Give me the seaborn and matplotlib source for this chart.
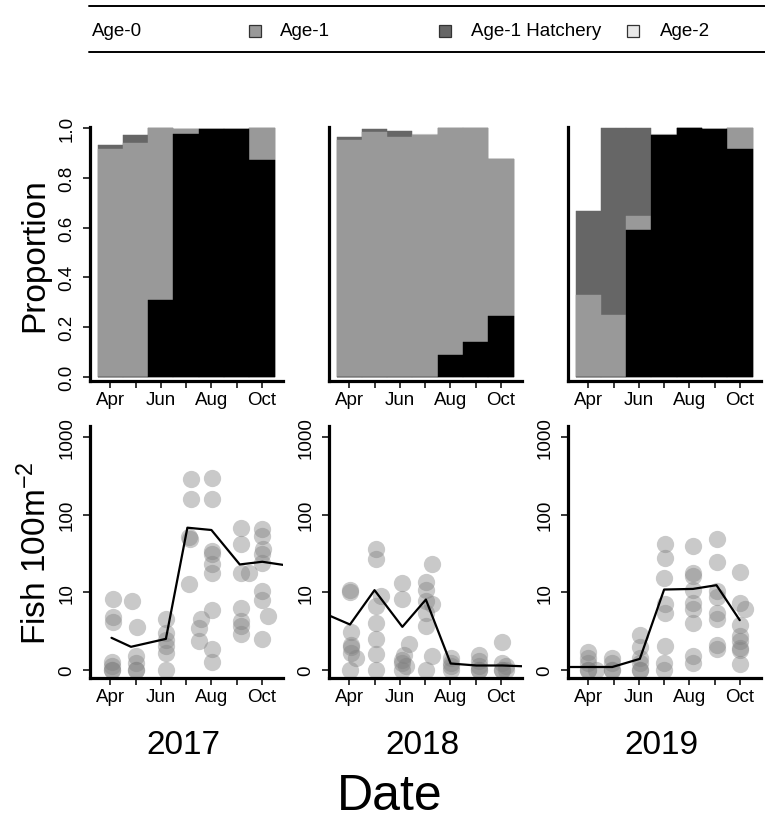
import numpy as np
import pandas as pd
import matplotlib
matplotlib.use('Agg')
import matplotlib.pyplot as plt
import seaborn as sns
from matplotlib.patches import Rectangle
from matplotlib.lines import Line2D

# ---------------- data ----------------
years = ['2017', '2018', '2019']
months = [4, 5, 6, 7, 8, 9, 10]
month_labels = ['Apr', '', 'Jun', '', 'Aug', '', 'Oct']
age_classes = ['Age-0', 'Age-1', 'Age-1 Hatchery', 'Age-2']

# proportions by month (Apr..Oct)
age0_2017 = [0.0, 0.0, 0.31, 0.975, 0.995, 0.997, 0.87]
age1_2017 = [0.915, 0.94, 0.69, 0.02, 0.0, 0.0, 0.13]
hatch_2017 = [0.015, 0.03, 0.0, 0.0, 0.0, 0.0, 0.0]
age2_2017 = [0.0, 0.0, 0.0, 0.0, 0.0, 0.0, 0.0]

age0_2018 = [0.0, 0.0, 0.0, 0.0, 0.09, 0.14, 0.245]
age1_2018 = [0.95, 0.984, 0.964, 0.972, 0.91, 0.86, 0.63]
hatch_2018 = [0.015, 0.012, 0.024, 0.0, 0.0, 0.0, 0.0]
age2_2018 = [0.0, 0.0, 0.0, 0.004, 0.0, 0.0, 0.0]

age0_2019 = [0.0, 0.0, 0.59, 0.97, 1.0, 0.997, 0.915]
age1_2019 = [0.33, 0.25, 0.057, 0.0, 0.0, 0.0, 0.085]
hatch_2019 = [0.337, 0.75, 0.353, 0.0, 0.0, 0.0, 0.0]
age2_2019 = [0.0, 0.0, 0.0, 0.006, 0.0, 0.0, 0.0]

# densities (fish per 100 m^2) at sampling dates (fractional month)
dens_x_2017 = [4.09, 4.09, 4.09, 4.07, 4.07, 4.07, 4.07,
               4.86, 5.04, 5.01, 5.01, 5.01, 5.01,
               6.2, 6.2, 6.2, 6.2, 6.2, 6.2,
               7.18, 7.18, 7.12, 7.16, 7.12, 7.58, 7.51, 7.51,
               8.04, 8.04, 8.04, 8.04, 8.04, 8.04, 8.04, 8.04, 8.04,
               9.16, 9.16, 9.16, 9.49, 9.16, 9.16, 9.16, 9.16,
               10.01, 10.01, 10.05, 10.01, 10.01, 10.01, 10.01, 10.25, 10.01]
dens_y_2017 = [7.3, 3.9, 3.15, 0.28, 0.12, 0.0, 0.0,
               6.7, 2.6, 0.51, 0.24, 0.0, 0.0,
               3.58, 2.0, 1.48, 1.04, 0.67, 0.0,
               284, 160, 50.5, 47, 11.7, 3.5, 2.5, 1.36,
               298, 160, 33, 30, 22, 17, 5.0, 0.88, 0.27,
               67, 40.5, 17, 17, 5.35, 3.3, 2.7, 1.9,
               64, 52, 35, 30, 23, 9.4, 7.1, 4.05, 1.53]
mean_x_2017 = [4.05, 4.82, 6.2, 7.05, 8.0, 9.12, 10.01, 11.0]
mean_y_2017 = [1.61, 1.0, 1.53, 67, 62.5, 21.9, 23.8, 21.2]

dens_x_2018 = [4.03, 4.03, 4.07, 4.07, 4.07, 4.07, 4.26, 4.03,
               5.05, 5.05, 5.25, 5.05, 5.05, 5.05, 5.05, 5.05,
               6.1, 6.1, 6.37, 6.17, 6.1, 6.1, 6.24, 6.1,
               7.29, 7.05, 7.05, 7.05, 7.29, 7.05, 7.05, 7.29, 7.05,
               8.01, 8.01, 8.01, 8.01,
               9.13, 9.13, 9.13, 9.13, 9.13,
               10.05, 10.05, 10.18, 10.05, 10.05, 10.18]
dens_y_2018 = [9.9, 9.1, 2.08, 1.14, 1.0, 0.67, 0.44, 0.0,
               35.5, 25.6, 8.0, 5.7, 3.0, 1.53, 0.62, 0.0,
               12.3, 7.3, 1.18, 0.58, 0.37, 0.24, 0.12, 0.0,
               22, 12.6, 9.9, 6.7, 6.0, 4.37, 2.7, 0.51, 0.0,
               0.44, 0.24, 0.12, 0.0,
               0.59, 0.31, 0.12, 0.0, 0.0,
               1.3, 0.24, 0.12, 0.0, 0.0, 0.0]
mean_x_2018 = [3.0, 4.03, 5.0, 6.1, 7.03, 8.01, 9.03, 10.05, 11.0]
mean_y_2018 = [4.4, 2.87, 9.7, 2.61, 7.1, 0.22, 0.15, 0.15, 0.12]

dens_x_2019 = [4.0, 4.0, 4.0, 4.0, 4.0, 4.29,
               4.95, 4.95, 4.95, 4.95,
               6.04, 6.04, 6.04, 6.04, 6.04, 6.04,
               7.03, 7.03, 7.0, 7.03, 7.03, 7.03, 7.0, 7.0,
               8.14, 8.14, 8.14, 8.14, 8.14, 8.14, 8.14, 8.14, 8.14,
               9.09, 9.09, 9.09, 9.09, 9.09, 9.09, 9.09, 9.09,
               9.99, 9.99, 10.18, 9.99, 9.99, 9.99, 9.99, 9.99, 9.99]
dens_y_2019 = [0.7, 0.44, 0.24, 0.0, 0.0, 0.0,
               0.44, 0.24, 0.0, 0.0,
               1.85, 1.0, 0.44, 0.24, 0.0, 0.0,
               40.5, 27, 14.5, 6.0, 4.37, 1.04, 0.24, 0.0,
               38.5, 17, 15.2, 9.9, 6.4, 5.2, 3.07, 0.51, 0.24,
               47, 23.6, 9.4, 7.8, 4.5, 3.5, 1.14, 0.85,
               17.3, 6.4, 5.2, 2.76, 1.74, 1.36, 0.94, 0.81, 0.22]
mean_x_2019 = [3.0, 4.0, 4.95, 6.04, 7.0, 8.14, 9.07, 9.99]
mean_y_2019 = [0.1, 0.1, 0.1, 0.4, 9.9, 10.1, 11.4, 3.4]

dens_ticks = [0, 10, 100, 1000]

props = {
    '2017': (age0_2017, age1_2017, hatch_2017, age2_2017),
    '2018': (age0_2018, age1_2018, hatch_2018, age2_2018),
    '2019': (age0_2019, age1_2019, hatch_2019, age2_2019),
}
dens = {
    '2017': (dens_x_2017, dens_y_2017, mean_x_2017, mean_y_2017),
    '2018': (dens_x_2018, dens_y_2018, mean_x_2018, mean_y_2018),
    '2019': (dens_x_2019, dens_y_2019, mean_x_2019, mean_y_2019),
}

# ---------------- style ----------------
COL_AGE0 = '#000000'
COL_AGE1 = '#999999'
COL_HATCH = '#666666'
COL_AGE2 = '#e8e8e8'

sns.set_theme(style='ticks')
plt.rcParams['font.family'] = ['Liberation Sans', 'DejaVu Sans']
plt.rcParams['mathtext.fontset'] = 'custom'
plt.rcParams['mathtext.rm'] = 'Liberation Sans'
plt.rcParams['mathtext.it'] = 'Liberation Sans:italic'
plt.rcParams['mathtext.sf'] = 'Liberation Sans'
plt.rcParams['axes.unicode_minus'] = True
for key in ['text.color', 'axes.labelcolor', 'xtick.color', 'ytick.color',
            'xtick.labelcolor', 'ytick.labelcolor', 'axes.edgecolor']:
    plt.rcParams[key] = 'black'

W, H = 765, 820
fig = plt.figure(figsize=(W / 100, H / 100), dpi=100)
fig.patch.set_facecolor('white')


def px_axes(left, top, right, bottom):
    return fig.add_axes([left / W, 1 - bottom / H, (right - left) / W, (bottom - top) / H])


def tr(v):
    return np.log10(np.asarray(v, dtype=float) + 1.0)


TICK_FS = 13.5


def style(ax):
    for s in ['top', 'right']:
        ax.spines[s].set_visible(False)
    for s in ['left', 'bottom']:
        ax.spines[s].set_linewidth(2.3)
        ax.spines[s].set_color('black')
        ax.spines[s].set_capstyle('projecting')
    ax.set_facecolor('white')
    ax.grid(False)
    ax.tick_params(direction='out', length=5, width=1.1, colors='black',
                   labelcolor='black', labelsize=TICK_FS)
    ax.tick_params(axis='x', pad=2.5)
    ax.tick_params(axis='y', pad=5.5)
    ax.set_xlim(3.2, 10.83)
    ax.set_xticks(months)
    ax.set_xticklabels(month_labels)
    ax.set_xlabel('')
    ax.set_ylabel('')


lefts = [90, 329, 568]
PW = 193

for i, yr in enumerate(years):
    # ---- proportion panel ----
    ax = px_axes(lefts[i], 128, lefts[i] + PW, 382)
    a0, a1, h, a2 = [np.asarray(v) for v in props[yr]]
    layers = [a0 + a1 + h + a2, a0 + a1 + h, a0 + a1, a0]
    colors = [COL_AGE2, COL_HATCH, COL_AGE1, COL_AGE0]
    for cum, col in zip(layers, colors):
        sns.barplot(x=months, y=cum, native_scale=True, width=1.0, color=col,
                    saturation=1, edgecolor=col, linewidth=0.3,
                    errorbar=None, ax=ax)
    style(ax)
    ax.set_ylim(-0.016, 1.004)
    if i == 0:
        ax.set_yticks([0, 0.2, 0.4, 0.6, 0.8, 1.0])
        ax.set_yticklabels(['0.0', '0.2', '0.4', '0.6', '0.8', '1.0'],
                           rotation=90, va='center')
    else:
        ax.set_yticks([])

    # ---- density panel ----
    bx = px_axes(lefts[i], 427, lefts[i] + PW, 679)
    dx, dy, mx, my = dens[yr]
    sns.scatterplot(x=dx, y=tr(dy), s=155, color='#808080', alpha=0.42,
                    linewidth=0, legend=False, ax=bx)
    sns.lineplot(x=mx, y=tr(my), color='black', linewidth=1.6, sort=False,
                 estimator=None, ax=bx)
    style(bx)
    bx.set_ylim(-0.10, 3.14)
    bx.set_yticks([0, 1, 2, 3])
    bx.set_yticklabels([str(t) for t in dens_ticks], rotation=90, va='center')

    # year label
    fig.text((lefts[i] + PW / 2 - 3) / W, 1 - 746 / H, yr, ha='center',
             va='center', fontsize=24, color='black')

fig.text(35 / W, 1 - 255 / H, 'Proportion', rotation=90, ha='center',
         va='center', fontsize=24, color='black')
fig.text(36 / W, 1 - 553 / H, r'Fish 100m$^{-2}$', rotation=90, ha='center',
         va='center', fontsize=24, color='black')
fig.text(390 / W, 1 - 797 / H, 'Date', ha='center', va='center', fontsize=36,
         color='black')

# ---------------- legend ----------------
fig.add_artist(Line2D([89 / W, 1.0], [1 - 7 / H, 1 - 7 / H], color='black', lw=1.4))
fig.add_artist(Line2D([89 / W, 1.0], [1 - 53 / H, 1 - 53 / H], color='black', lw=1.4))
LEG_Y = 32
fig.text(92 / W, 1 - LEG_Y / H, age_classes[0], ha='left', va='center',
         fontsize=13.5, color='black')
leg_items = [(249, 280, COL_AGE1, age_classes[1]),
             (439, 471, COL_HATCH, age_classes[2]),
             (627, 660, COL_AGE2, age_classes[3])]
for px, tx, col, lab in leg_items:
    fig.add_artist(Rectangle((px / W, 1 - (LEG_Y + 6) / H), 12 / W, 12 / H,
                             facecolor=col, edgecolor='#333333', lw=0.9,
                             transform=fig.transFigure))
    fig.text(tx / W, 1 - LEG_Y / H, lab, ha='left', va='center', fontsize=13.5,
             color='black')

fig.savefig('out.png', dpi=100, facecolor='white')
